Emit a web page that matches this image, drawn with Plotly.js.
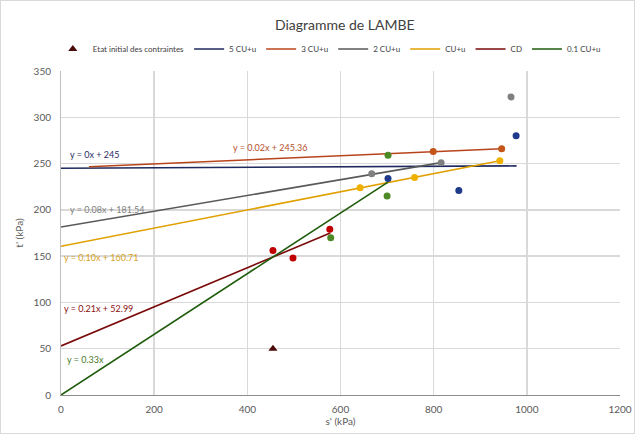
<!DOCTYPE html>
<html>
<head>
<meta charset="utf-8">
<script src="https://cdn.plot.ly/plotly-3.0.1.min.js"></script>
<style>
html,body{margin:0;padding:0;background:#fff;}
#chart{width:633px;height:432px;border:1px solid #d9d9d9;}
</style>
</head>
<body>
<div id="chart"></div>
<script>
// Initial state
const initX = [455];
const initY = [50];

// Measured points per series
const cu5X = [702, 854, 977];
const cu5Y = [234, 221, 280];
const cu3X = [799, 946];
const cu3Y = [263, 266];
const cu2X = [667, 816, 966];
const cu2Y = [239, 251, 322];
const cu1X = [642, 759, 942];
const cu1Y = [224, 235, 253];
const cdX = [455, 498, 577];
const cdY = [156, 148, 179];
const cu01X = [579, 700, 702];
const cu01Y = [170, 215, 259];

// Trendline endpoints
const tl5X = [0, 978];   const tl5Y = [245, 247.5];
const tl3X = [60, 946];  const tl3Y = [246.6, 266];
const tl2X = [0, 816];   const tl2Y = [181.5, 251];
const tl1X = [0, 942];   const tl1Y = [160.7, 253];
const tlcdX = [0, 578];  const tlcdY = [53, 175];
const tl01X = [0, 702];  const tl01Y = [0, 230];

// Trendline equations
const eqTexts = ["y = 0x + 245", "y = 0.02x + 245.36", "y = 0.08x + 181.54", "y = 0.10x + 160.71", "y = 0.21x + 52.99", "y = 0.33x"];
const eqX = [15, 365, 15, 2, 2, 8];
const eqY = [260, 267, 200, 149, 93, 38];

const legendNames = ["5 CU+u", "3 CU+u", "2 CU+u", "CU+u", "CD", "0.1 CU+u"];
const lineColors = ["#1f2a5e", "#b8441c", "#595959", "#e0a000", "#7a0a0a", "#1f5c0c"];
const ptColors = ["#1f3a8a", "#c5561a", "#808080", "#efb000", "#c00000", "#4d8a26"];
const eqColors = ["#1f2a5e", "#b5502a", "#7f7f7f", "#d6a11a", "#8a1010", "#4a7a2a"];

const ptsX = [cu5X, cu3X, cu2X, cu1X, cdX, cu01X];
const ptsY = [cu5Y, cu3Y, cu2Y, cu1Y, cdY, cu01Y];
const tlX = [tl5X, tl3X, tl2X, tl1X, tlcdX, tl01X];
const tlY = [tl5Y, tl3Y, tl2Y, tl1Y, tlcdY, tl01Y];

const FONT = 'Lato, "Liberation Sans", Arial, sans-serif';

const traces = [];
traces.push({x: initX, y: initY, type: 'scatter', mode: 'markers', name: 'Etat initial des contraintes',
  marker: {symbol: 'triangle-up', size: 8, color: '#4a0a0a'}});
for (let i = 0; i < 6; i++) {
  traces.push({x: tlX[i], y: tlY[i], type: 'scatter', mode: 'lines', name: legendNames[i],
    line: {color: lineColors[i], width: 1.6}});
}
for (let i = 0; i < 6; i++) {
  traces.push({x: ptsX[i], y: ptsY[i], type: 'scatter', mode: 'markers', showlegend: false,
    marker: {size: 7, color: ptColors[i]}});
}

const annotations = eqTexts.map((t, i) => ({
  x: eqX[i], y: eqY[i], xref: 'x', yref: 'y', text: t, showarrow: false,
  xanchor: 'left', yanchor: 'middle', font: {size: 9, color: eqColors[i], family: FONT}
}));

const layout = {
  width: 633, height: 432,
  margin: {l: 60, r: 14, t: 70, b: 38},
  paper_bgcolor: '#ffffff', plot_bgcolor: '#ffffff',
  font: {family: FONT, color: '#595959', size: 10},
  title: {text: 'Diagramme de LAMBE', x: 0.543, xanchor: 'center', y: 0.944, yanchor: 'middle',
    font: {size: 14, color: '#404040', family: FONT}},
  showlegend: true,
  legend: {orientation: 'h', x: 0.48, xanchor: 'center', y: 1.068, yanchor: 'middle',
    font: {size: 8, color: '#404040', family: FONT}, itemwidth: 30, tracegroupgap: 0, bgcolor: 'rgba(0,0,0,0)'},
  xaxis: {range: [0, 1200], tickvals: [0, 200, 400, 600, 800, 1000, 1200], showgrid: true,
    gridcolor: '#d9d9d9', gridwidth: 1.5, zeroline: false, showline: true, linecolor: '#8c8c8c', linewidth: 1,
    ticks: 'outside', ticklen: 5, tickcolor: 'rgba(0,0,0,0)', tickfont: {size: 10, color: '#595959'},
    title: {text: "s' (kPa)", font: {size: 10, color: '#595959'}, standoff: 3}},
  yaxis: {range: [0, 350], tickvals: [0, 50, 100, 150, 200, 250, 300, 350], showgrid: true,
    gridcolor: '#d9d9d9', gridwidth: 1.5, zeroline: false, showline: true, linecolor: '#bfbfbf', linewidth: 1,
    ticks: 'outside', ticklen: 7, tickcolor: 'rgba(0,0,0,0)', tickfont: {size: 10, color: '#595959'},
    title: {text: "t' (kPa)", font: {size: 10, color: '#595959'}, standoff: 8}},
  annotations: annotations
};

Plotly.newPlot('chart', traces, layout, {displayModeBar: false, staticPlot: true});
</script>
</body>
</html>
